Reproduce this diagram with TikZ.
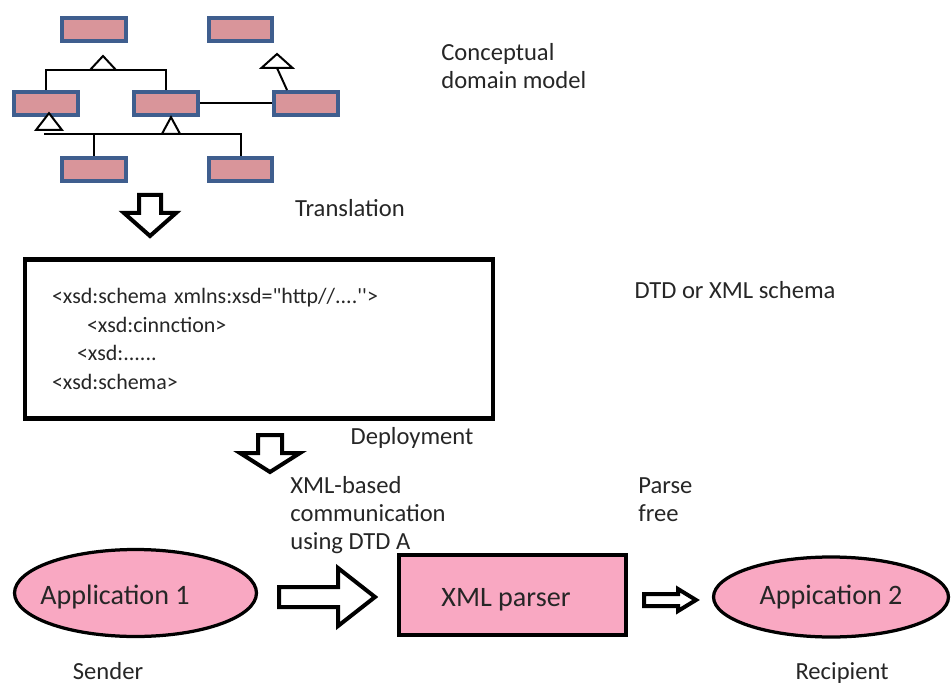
\documentclass[tikz,border=0pt]{standalone}
\usepackage{fontspec}
\setmainfont{Carlito}
\newfontfamily\codefont{Carlito}[Ligatures=TeXOff]
\usepackage{xcolor}
\usetikzlibrary{shapes.geometric}
\definecolor{umlblue}{HTML}{3F5E8E}
\definecolor{umlpink}{HTML}{D9959A}
\definecolor{apppink}{HTML}{F9A8C2}

\begin{document}
\begin{tikzpicture}[x=0.02cm, y=-0.02cm,
		every node/.style={text=black!85},
		umlbox/.style={draw=umlblue, line width=0.08cm, fill=umlpink,
			minimum width=1.28cm, minimum height=0.46cm, inner sep=0},
		uml/.style={line width=0.04cm},
		gentri/.pic={\draw[uml, fill=white] (-13,0) -- (0,-14) -- (13,0) -- cycle;},
		bigarrow/.style={draw, line width=0.08cm, fill=white, line join=miter},
		lbl/.style={font=\fontsize{14}{16}\selectfont, align=left, inner sep=0},
		code/.style={font=\codefont\fontsize{12.5}{16.4}\selectfont},
		big/.style={font=\fontsize{16}{19}\selectfont},
		app/.style={ellipse, draw, line width=0.065cm, fill=apppink, inner sep=0, big}
	]
	\useasboundingbox (0,0) rectangle (952,685);
	%
	% conceptual domain model
	\node[umlbox] (a) at (94,30) {};
	\node[umlbox] (b) at (240.5,30) {};
	\node[umlbox] (c) at (46,103.5) {};
	\node[umlbox] (d) at (166,103.5) {};
	\node[umlbox] (e) at (306,103.5) {};
	\node[umlbox] (f) at (94,169.5) {};
	\node[umlbox] (g) at (240.5,169.5) {};
	\coordinate (gen1) at (103,70);
	\coordinate (genb) at (277,68);
	\coordinate (gen2) at (49,130);
	\coordinate (gen3) at (171,134);
	\coordinate (bus) at (44,134);
	\draw[uml] (c.north) |- (gen1) -| (d.north);
	\draw[uml] ([xshift=-0.38cm]e.north) -- (genb);
	\draw[uml] (d.east) -- (e.west);
	\draw[uml] (bus) -- (gen3) -| (g.north);
	\draw[uml] (f.north) -- (f.north |- bus);
	\pic at (gen1) {gentri};
	\pic[xscale=1.2] at (genb) {gentri};
	\pic[yscale=1.2] at (gen2) {gentri};
	\pic[xscale=0.7, yscale=1.2] at (gen3) {gentri};
	\node[lbl, anchor=west] (concept) at (441,66.5) {Conceptual\\domain model};
	%
	% translation
	\draw[bigarrow] (139,195) -- (161,195) -- (161,213) -- (176,213) -- (150,236)
		-- (124,213) -- (139,213) -- cycle;
	\node[lbl] (transl) at (350,208) {Translation};
	%
	% schema
	\node[draw, line width=0.09cm, minimum width=9.36cm, minimum height=3.18cm,
		text width=8.28cm, inner sep=0, align=left, code] (schema) at (259,339)
		{<xsd:schema xmlns:xsd="http//....''>\\
		\hspace*{0.7cm}<xsd:cinnction>\\
		\hspace*{0.5cm}<xsd:......\\
		<xsd:schema>};
	\node[lbl] (dtd) at (735,290) {DTD or XML schema};
	%
	% deployment
	\draw[bigarrow] (258,435) -- (282,435) -- (282,453) -- (300,453) -- (270,472)
		-- (240,453) -- (258,453) -- cycle;
	\node[lbl] (deploy) at (412,438) {Deployment};
	\node[lbl, anchor=west] (comm) at (290,515) {XML-based\\communication\\using DTD A};
	\node[lbl, anchor=west] (parse) at (638,500) {Parse\\free};
	%
	% communication
	\node[app, minimum width=4.84cm, minimum height=1.74cm] (app1) at (135.5,593) {};
	\node[big] (app1txt) at (115,597) {Application 1};
	\node[draw, line width=0.09cm, fill=apppink, minimum width=4.54cm,
		minimum height=1.6cm] (parser) at (512.5,595) {};
	\node[big] (parsertxt) at (506,600) {XML parser};
	\node[app, minimum width=4.7cm, minimum height=1.6cm] (app2) at (831,597) {Appication 2};
	\draw[bigarrow] (279,587) -- (338,587) -- (338,568) -- (375,597) -- (338,626)
		-- (338,607) -- (279,607) -- cycle;
	\draw[bigarrow] (644,594) -- (678,594) -- (678,589) -- (696,600) -- (678,611)
		-- (678,606) -- (644,606) -- cycle;
	\node[lbl] (sender) at (108,671) {Sender};
	\node[lbl] (recip) at (842,673) {Recipient};
\end{tikzpicture}
\end{document}
